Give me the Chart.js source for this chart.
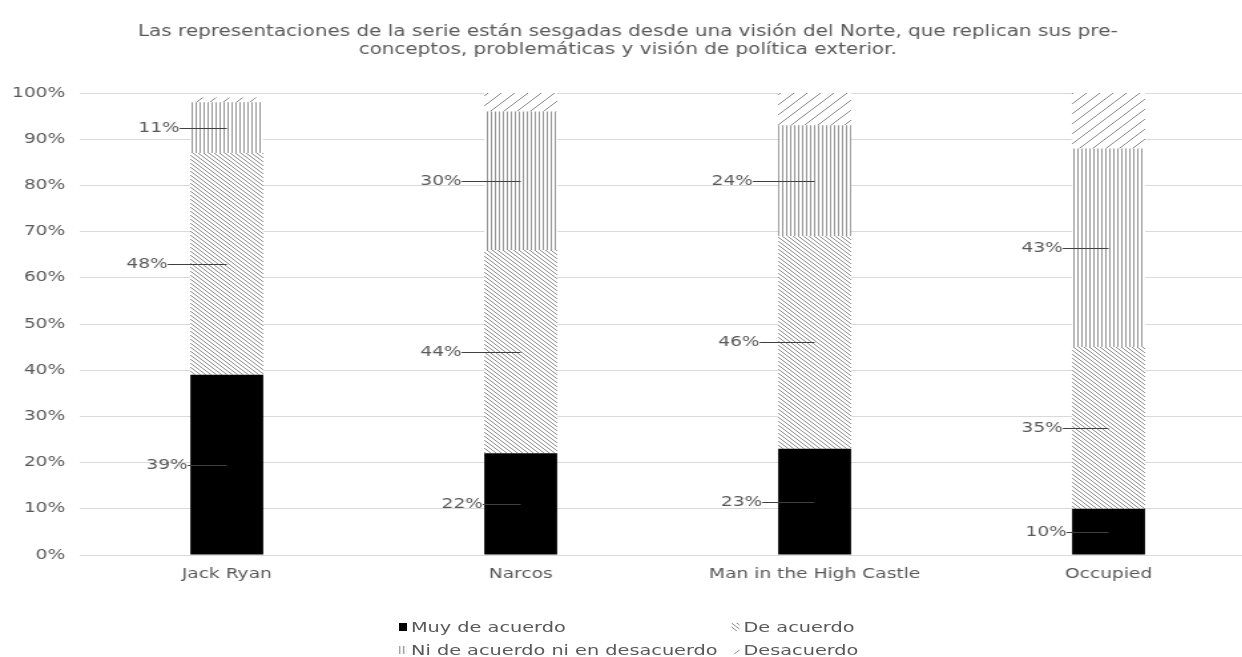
<!DOCTYPE html>
<html>
<head>
<meta charset="utf-8">
<script src="https://cdn.jsdelivr.net/npm/chart.js@4/dist/chart.umd.min.js"></script>
<style>
  html, body { margin: 0; padding: 0; background: #fff; overflow: hidden; }
  /* the original picture is stretched sideways, so the whole page is too */
  #wrap {
    position: relative; width: 934px; height: 657px; overflow: hidden;
    transform: scaleX(1.33); transform-origin: 0 0;
  }
  #box { position: absolute; left: 0; top: 0; width: 944px; height: 600px; }
  #legend {
    position: absolute; left: 300px; top: 617px;
    display: grid; grid-template-columns: 250px auto; row-gap: 4px;
    font-family: "DejaVu Sans", sans-serif; font-size: 14.5px; color: #595959;
  }
  #legend span.item { display: flex; align-items: center; height: 19px; }
  #legend span.box { display: inline-block; width: 6px; height: 8px; margin-right: 3px; }
</style>
</head>
<body>
<div id="wrap">
  <div id="box"><canvas id="myChart"></canvas></div>
  <div id="legend"></div>
</div>
<script>
const categories = ['Jack Ryan', 'Narcos', 'Man in the High Castle', 'Occupied'];
const seriesNames = ['Muy de acuerdo', 'De acuerdo', 'Ni de acuerdo ni en desacuerdo', 'Desacuerdo'];
const muyDeAcuerdo = [39, 22, 23, 10];
const deAcuerdo = [48, 44, 46, 35];
const niNi = [11, 30, 24, 43];
const desacuerdo = [1, 4, 7, 12];
const yTicks = [0, 10, 20, 30, 40, 50, 60, 70, 80, 90, 100];

// how far left of the bar each data label sits (Excel placed them by hand)
const labelGap = [
  [2, 1, 12, 4],
  [17, 17, 14, 7],
  [8, 17, 19, 7],
];

function tile(size, draw) {
  const c = document.createElement('canvas');
  c.width = size; c.height = size;
  const ctx = c.getContext('2d');
  ctx.fillStyle = '#fff';
  ctx.fillRect(0, 0, size, size);
  draw(ctx);
  return c;
}

const tiles = [
  tile(4, (ctx) => { ctx.fillStyle = '#000'; ctx.fillRect(0, 0, 4, 4); }),
  tile(4, (ctx) => {
    ctx.fillStyle = '#8c8c8c';
    for (let i = 0; i < 4; i++) ctx.fillRect(i, i, 1, 1);
  }),
  tile(3, (ctx) => { ctx.fillStyle = '#959595'; ctx.fillRect(0, 0, 1, 3); }),
  tile(10, (ctx) => {
    ctx.fillStyle = '#8a8a8a';
    for (let i = 0; i < 10; i++) ctx.fillRect(i, 9 - i, 1, 1);
  }),
];

const pctx = document.createElement('canvas').getContext('2d');
const fills = tiles.map((t) => pctx.createPattern(t, 'repeat'));

const labelPlugin = {
  id: 'leaderLabels',
  afterDatasetsDraw(chart) {
    const ctx = chart.ctx;
    ctx.save();
    ctx.font = '14px "DejaVu Sans", sans-serif';
    ctx.textAlign = 'right';
    ctx.textBaseline = 'middle';
    for (let d = 0; d < 3; d++) {
      const meta = chart.getDatasetMeta(d);
      meta.data.forEach((bar, i) => {
        const v = chart.data.datasets[d].data[i];
        const mid = Math.round((bar.y + bar.base) / 2) + 0.5;
        const left = bar.x - bar.width / 2;
        const tx = left - labelGap[d][i];
        ctx.strokeStyle = '#404040';
        ctx.lineWidth = 1;
        ctx.beginPath();
        ctx.moveTo(tx, mid);
        ctx.lineTo(bar.x, mid);
        ctx.stroke();
        ctx.fillStyle = '#595959';
        ctx.fillText(v + '%', tx, mid);
      });
    }
    ctx.restore();
  },
};

const values = [muyDeAcuerdo, deAcuerdo, niNi, desacuerdo];

new Chart(document.getElementById('myChart'), {
  type: 'bar',
  data: {
    labels: categories,
    datasets: values.map((v, k) => ({
      label: seriesNames[k],
      data: v,
      backgroundColor: fills[k],
      borderWidth: 0,
      barPercentage: 0.248,
      categoryPercentage: 1,
    })),
  },
  options: {
    responsive: true,
    maintainAspectRatio: false,
    animation: false,
    layout: { padding: 0 },
    scales: {
      x: {
        stacked: true,
        grid: { display: false },
        border: { color: '#d9d9d9' },
        ticks: { color: '#595959', font: { family: 'DejaVu Sans', size: 14 }, padding: 3 },
        afterFit(scale) { scale.height = 45; },
      },
      y: {
        stacked: true,
        min: 0,
        max: 100,
        afterBuildTicks(scale) { scale.ticks = yTicks.map((v) => ({ value: v })); },
        ticks: {
          color: '#595959',
          font: { family: 'DejaVu Sans', size: 14 },
          padding: 11,
          callback: (v) => v + '%',
        },
        grid: { color: '#d9d9d9', drawTicks: false },
        border: { display: false },
        afterFit(scale) { scale.width = 60; },
      },
    },
    plugins: {
      legend: { display: false },
      tooltip: { enabled: false },
      title: {
        display: true,
        text: [
          'Las representaciones de la serie están sesgadas desde una visión del Norte, que replican sus pre-',
          'conceptos, problemáticas y visión de política exterior.',
        ],
        color: '#595959',
        font: { family: 'DejaVu Sans', size: 15, weight: 'normal', lineHeight: 1.2 },
        padding: { top: 23, bottom: 34 },
      },
    },
  },
  plugins: [labelPlugin],
});

// legend laid out in two columns like the original
const legendEl = document.getElementById('legend');
[0, 1, 2, 3].forEach((k) => {
  const item = document.createElement('span');
  item.className = 'item';
  const box = document.createElement('span');
  box.className = 'box';
  box.style.backgroundImage = 'url(' + tiles[k].toDataURL() + ')';
  item.appendChild(box);
  item.appendChild(document.createTextNode(seriesNames[k]));
  legendEl.appendChild(item);
});
</script>
</body>
</html>
